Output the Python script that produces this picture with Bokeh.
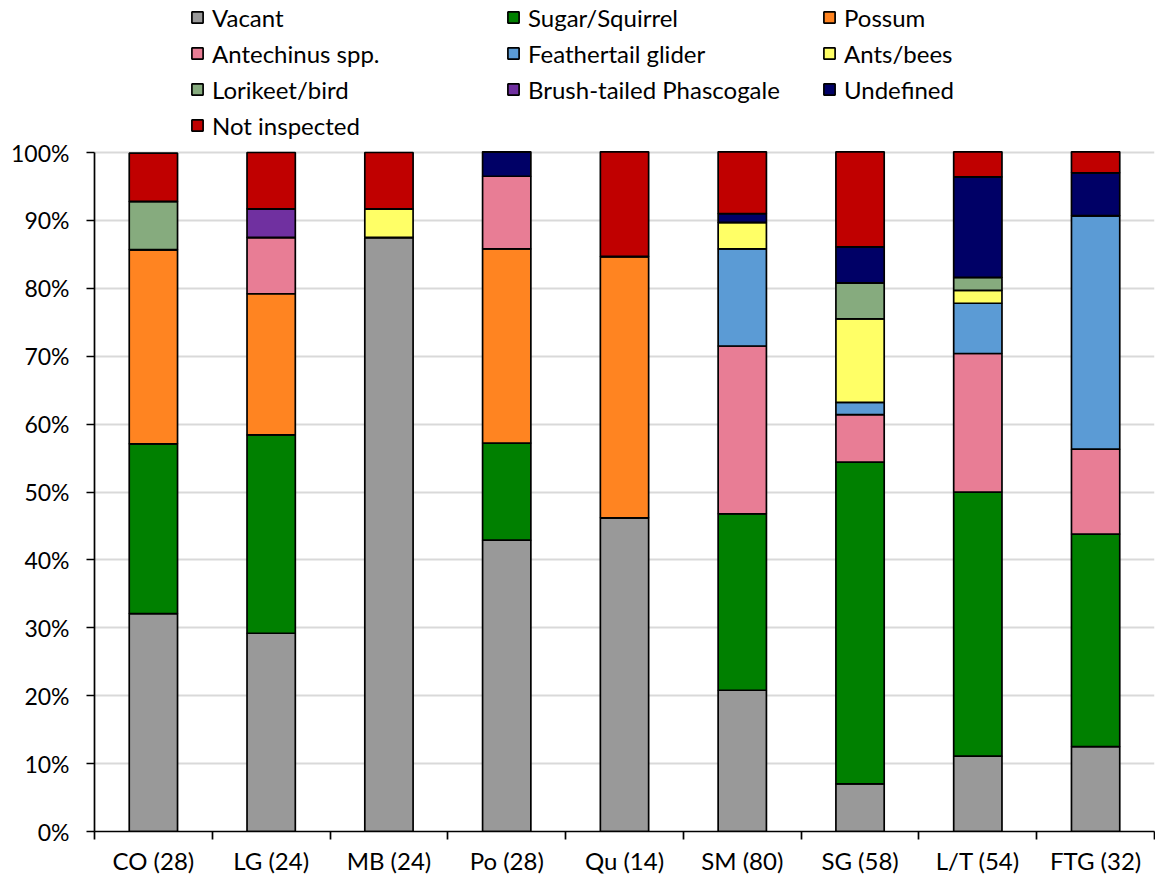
import numpy as np
from bokeh.plotting import figure
from bokeh.models import (Range1d, FixedTicker, Legend, LegendItem, ColumnDataSource,
                          PrintfTickFormatter)
from bokeh.embed import file_html
from bokeh.resources import INLINE

categories = ["CO (28)", "LG (24)", "MB (24)", "Po (28)", "Qu (14)",
              "SM (80)", "SG (58)", "L/T (54)", "FTG (32)"]

# percentages (bottom to top in each bar)
vacant        = [32.1, 29.2, 87.5, 42.9, 46.2, 20.8,  7.0, 11.1, 12.5]
sugar         = [25.0, 29.2,  0.0, 14.3,  0.0, 26.0, 47.4, 38.9, 31.3]
possum        = [28.6, 20.8,  0.0, 28.6, 38.5,  0.0,  0.0,  0.0,  0.0]
antechinus    = [ 0.0,  8.3,  0.0, 10.7,  0.0, 24.7,  7.0, 20.4, 12.5]
feathertail   = [ 0.0,  0.0,  0.0,  0.0,  0.0, 14.3,  1.8,  7.4, 34.4]
ants_bees     = [ 0.0,  0.0,  4.2,  0.0,  0.0,  3.9, 12.3,  1.9,  0.0]
lorikeet      = [ 7.1,  0.0,  0.0,  0.0,  0.0,  0.0,  5.3,  1.9,  0.0]
phascogale    = [ 0.0,  4.2,  0.0,  0.0,  0.0,  0.0,  0.0,  0.0,  0.0]
undefined     = [ 0.0,  0.0,  0.0,  3.6,  0.0,  1.3,  5.3, 14.8,  6.3]
not_inspected = [ 7.1,  8.3,  8.3,  0.0, 15.4,  9.1, 14.0,  3.7,  3.1]

series_keys = ["vacant", "sugar", "possum", "antechinus", "feathertail",
               "ants_bees", "lorikeet", "phascogale", "undefined", "not_inspected"]
series_vals = [vacant, sugar, possum, antechinus, feathertail,
               ants_bees, lorikeet, phascogale, undefined, not_inspected]
series_labels = ["Vacant", "Sugar/Squirrel", "Possum", "Antechinus spp.",
                 "Feathertail glider", "Ants/bees", "Lorikeet/bird",
                 "Brush-tailed Phascogale", "Undefined", "Not inspected"]
colors = ["#999999", "#008000", "#FF8421", "#E87D95", "#5B9BD5",
          "#FFFF66", "#86AB7E", "#7030A0", "#000066", "#C00000"]

FONT = "Lato"
FS_Y = "23px"
FS_X = "24px"
FS_LEG = "24px"

# layout (pixels)
W, H = 1155, 880
LEFT, RIGHT, BOTTOM = 94, 1, 49
FRAME_H = H - BOTTOM          # frame starts at the very top of the figure
PLOT_TOP = 152                # pixel row of the 100% line
Y_END = 100.0 * FRAME_H / (FRAME_H - PLOT_TOP)   # room above 100% for the legend

n = len(categories)
xpos = np.arange(n) + 0.5
data = {"x": xpos}
for k, v in zip(series_keys, series_vals):
    data[k] = v
source = ColumnDataSource(data)

p = figure(width=W, height=H, output_backend="svg", toolbar_location=None,
           x_range=Range1d(0, n), y_range=Range1d(0, Y_END),
           min_border_left=LEFT, min_border_right=RIGHT, min_border_top=0,
           min_border_bottom=BOTTOM)
p.outline_line_color = None
p.background_fill_color = "white"

renderers = p.vbar_stack(series_keys, x="x", width=0.41, source=source,
                         color=colors, line_color="black", line_width=1.7)

# axes
p.xgrid.grid_line_color = None
p.ygrid.grid_line_color = "#D9D9D9"
p.ygrid.grid_line_width = 2
p.yaxis.ticker = FixedTicker(ticks=list(range(0, 101, 10)), minor_ticks=[])
p.yaxis.bounds = (0, 100)
p.yaxis.formatter = PrintfTickFormatter(format="%d%%")
p.yaxis.axis_line_color = "black"
p.yaxis.axis_line_width = 1.7
p.yaxis.major_tick_line_color = "black"
p.yaxis.major_tick_line_width = 1.7
p.yaxis.major_tick_out = 8
p.yaxis.major_tick_in = 0
p.yaxis.minor_tick_line_color = None
p.yaxis.major_label_standoff = 17
p.yaxis.major_label_text_font = FONT
p.yaxis.major_label_text_font_size = FS_Y
p.yaxis.major_label_text_color = "black"

p.xaxis.ticker = FixedTicker(ticks=list(xpos), minor_ticks=list(range(0, n + 1)))
p.xaxis.major_label_overrides = {float(x): c for x, c in zip(xpos, categories)}
p.xaxis.axis_line_color = "black"
p.xaxis.axis_line_width = 1.7
p.xaxis.major_tick_line_color = None
p.xaxis.major_tick_out = 0
p.xaxis.minor_tick_line_color = "black"
p.xaxis.minor_tick_line_width = 1.7
p.xaxis.minor_tick_out = 8
p.xaxis.minor_tick_in = 0
p.xaxis.major_label_standoff = 6
p.xaxis.major_label_text_font = FONT
p.xaxis.major_label_text_font_size = FS_X
p.xaxis.major_label_text_color = "black"

# legend: three columns, each its own legend, inside the top of the frame
ROW = 36
columns = [[0, 3, 6, 9], [1, 4, 7], [2, 5, 8]]
col_x = [96, 412, 728]          # offsets from the frame's left edge
first_row_center = 17           # pixel row of the first legend row
for cx, idxs in zip(col_x, columns):
    items = [LegendItem(label=series_labels[i], renderers=[renderers[i]]) for i in idxs]
    bottom_px = first_row_center - ROW / 2 + ROW * len(idxs)
    leg = Legend(items=items, orientation="vertical",
                 glyph_width=14, glyph_height=14, label_standoff=8,
                 label_height=ROW, spacing=0, padding=0, margin=0,
                 border_line_color=None, background_fill_alpha=0,
                 label_text_font=FONT, label_text_font_size=FS_LEG,
                 label_text_color="black",
                 location=(cx, FRAME_H - bottom_px))
    p.add_layout(leg, "center")

open("out.html", "w").write(file_html(p, INLINE))
